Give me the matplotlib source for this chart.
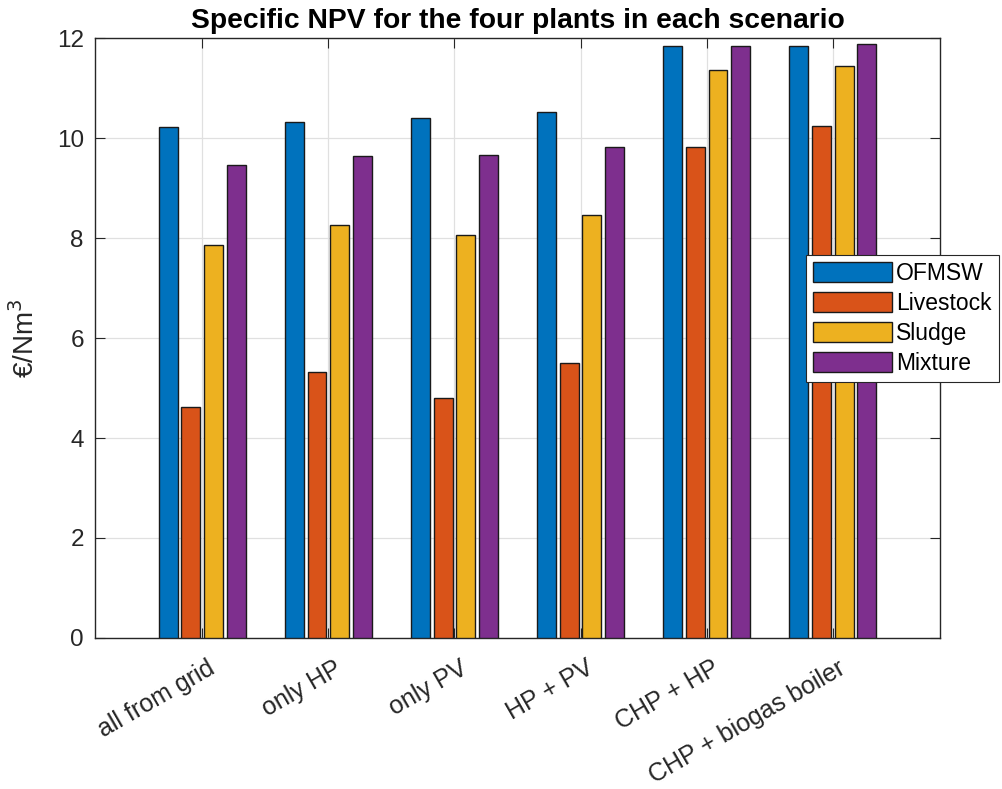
import matplotlib.pyplot as plt
import matplotlib.transforms as mtransforms
import numpy as np

plt.rcParams['font.family'] = ['Liberation Sans', 'DejaVu Sans']

scenarios = ['all from grid', 'only HP', 'only PV', 'HP + PV', 'CHP + HP', 'CHP + biogas boiler']
plants = ['OFMSW', 'Livestock', 'Sludge', 'Mixture']
ofmsw = [10.23, 10.32, 10.41, 10.52, 11.84, 11.84]
livestock = [4.62, 5.32, 4.81, 5.51, 9.82, 10.24]
sludge = [7.87, 8.27, 8.07, 8.47, 11.37, 11.45]
mixture = [9.46, 9.64, 9.66, 9.83, 11.85, 11.89]
colors = ['#0072BD', '#D95319', '#EDB120', '#7E2F8E']

fig = plt.figure(figsize=(10.03, 7.89), dpi=100)
ax = fig.add_axes([0.0947, 0.1914, 0.8425, 0.7604])

x = np.arange(1, len(scenarios) + 1)
offsets = [-0.27, -0.09, 0.09, 0.27]
for series, off, col, name in zip([ofmsw, livestock, sludge, mixture], offsets, colors, plants):
    ax.bar(x + off, series, width=0.15, color=col, edgecolor='#1a1a1a', linewidth=1.0,
           label=name, zorder=3)

ax.set_xlim(0.15, 6.85)
ax.set_ylim(0, 12)
ax.set_yticks(range(0, 13, 2))
ax.set_xticks(x)
ax.set_xticklabels(scenarios, rotation=30, ha='right', va='top', rotation_mode='anchor', fontsize=18)
ax.tick_params(axis='y', labelsize=17.5, pad=8)
ax.tick_params(axis='x', pad=13)
ax.tick_params(direction='in', top=True, right=True, length=7, color='#262626', labelcolor='#262626')
shift = mtransforms.ScaledTranslation(5 / 100, 0, fig.dpi_scale_trans)
for lab in ax.get_xticklabels():
    lab.set_transform(lab.get_transform() + shift)

ax.grid(True, color='#e0e0e0', linewidth=0.9, zorder=0)
ax.set_axisbelow(True)
for s in ax.spines.values():
    s.set_color('#262626')
    s.set_linewidth(1.0)

ax.set_ylabel('€/Nm$^3$', fontsize=20, color='#262626', labelpad=12)
ax.set_title('Specific NPV for the four plants in each scenario', fontsize=20.3,
             fontweight='bold', pad=7)

leg = ax.legend(loc='upper left', bbox_to_anchor=(0.841, 0.638), fontsize=16.5,
                handlelength=3.45, handleheight=0.96, fancybox=False, framealpha=1,
                edgecolor='#262626', borderaxespad=0, labelspacing=0.3,
                handletextpad=0.2, borderpad=0.3)
leg.get_frame().set_linewidth(0.8)

plt.savefig('out.png', dpi=100)
